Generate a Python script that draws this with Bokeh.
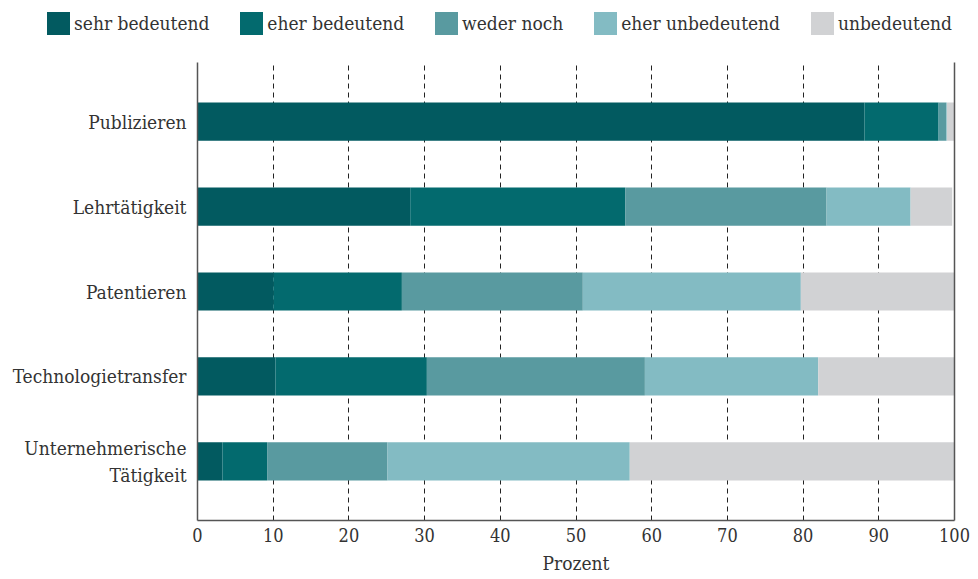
from bokeh.plotting import figure
from bokeh.models import (FactorRange, Range1d, FixedTicker, CategoricalAxis, ColumnDataSource, Div)
from bokeh.layouts import column
from bokeh.embed import file_html
from bokeh.resources import INLINE

categories = ["Publizieren", "Lehrtätigkeit", "Patentieren", "Technologietransfer",
              "Unternehmerische\nTätigkeit"]
series_names = ["sehr bedeutend", "eher bedeutend", "weder noch", "eher unbedeutend", "unbedeutend"]
sehr_bedeutend = [88.1, 28.1, 10.0, 10.3, 3.3]
eher_bedeutend = [9.8, 28.4, 17.0, 20.0, 5.9]
weder_noch = [1.0, 26.6, 23.9, 28.8, 15.9]
eher_unbedeutend = [0.1, 11.1, 28.8, 22.9, 32.0]
unbedeutend = [1.0, 5.5, 20.3, 18.0, 42.9]
colors = ["#025a60", "#036a6e", "#599aa0", "#83bbc3", "#d1d2d4"]
x_ticks = [0, 10, 20, 30, 40, 50, 60, 70, 80, 90, 100]

FONT = "DejaVu Serif Condensed"

source = ColumnDataSource(data=dict(
    cat=categories,
    s0=sehr_bedeutend, s1=eher_bedeutend, s2=weder_noch, s3=eher_unbedeutend, s4=unbedeutend,
))

# ---------- main chart ----------
p = figure(
    width=970, height=529,
    y_range=FactorRange(factors=list(reversed(categories)), range_padding=0.078),
    x_range=Range1d(0, 100),
    output_backend="svg", toolbar_location=None,
    min_border_left=197, min_border_right=16, min_border_top=12, min_border_bottom=59,
)

p.hbar_stack(["s0", "s1", "s2", "s3", "s4"], y="cat", height=0.45, color=colors,
             line_color=None, source=source)

p.outline_line_color = None
p.background_fill_color = "white"
p.border_fill_color = "white"

p.ygrid.grid_line_color = None
p.xgrid.ticker = FixedTicker(ticks=x_ticks)
p.xgrid.grid_line_color = "#222222"
p.xgrid.grid_line_dash = "5 4"
p.xgrid.grid_line_width = 1

xa = p.xaxis[0]
xa.ticker = FixedTicker(ticks=x_ticks)
xa.axis_label = "Prozent"
xa.axis_label_text_font = FONT
xa.axis_label_text_font_style = "normal"
xa.axis_label_text_font_size = "19px"
xa.axis_label_text_color = "#333333"
xa.axis_label_standoff = 7
xa.major_label_text_font = FONT
xa.major_label_text_font_size = "18px"
xa.major_label_text_color = "#333333"
xa.major_label_standoff = 1
xa.major_tick_line_color = None
xa.minor_tick_line_color = None
xa.axis_line_color = "#555555"
xa.axis_line_width = 1.5

ya = p.yaxis[0]
ya.major_label_text_font = FONT
ya.major_label_text_font_size = "19px"
ya.major_label_text_color = "#333333"
ya.major_label_standoff = 5
ya.major_tick_line_color = None
ya.minor_tick_line_color = None
ya.axis_line_color = "#555555"
ya.axis_line_width = 1.5

# right frame border (categorical axis without ticks or visible labels)
ra = CategoricalAxis()
ra.major_label_text_font_size = "0px"
ra.major_tick_line_color = None
ra.minor_tick_line_color = None
ra.axis_line_color = "#555555"
ra.axis_line_width = 1.5
ra.major_label_standoff = 0
p.add_layout(ra, "right")

# ---------- legend (HTML strip built from the series names/colours) ----------
entries = "".join(
    f'<div style="display:flex;align-items:center;">'
    f'<span style="display:inline-block;width:23px;height:23px;background:{c};"></span>'
    f'<span style="margin-left:4px;">{name}</span></div>'
    for name, c in zip(series_names, colors)
)
legend_html = (
    f'<div style="display:flex;justify-content:space-between;align-items:center;'
    f'width:905px;margin-left:47px;margin-top:12px;font-family:\'{FONT}\';'
    f'font-size:19px;color:#333333;line-height:23px;">{entries}</div>'
)
legend_div = Div(text=legend_html, width=970, height=50, margin=(0, 0, 0, 0))

layout = column(legend_div, p, spacing=0)
open("out.html", "w").write(file_html(layout, INLINE))
